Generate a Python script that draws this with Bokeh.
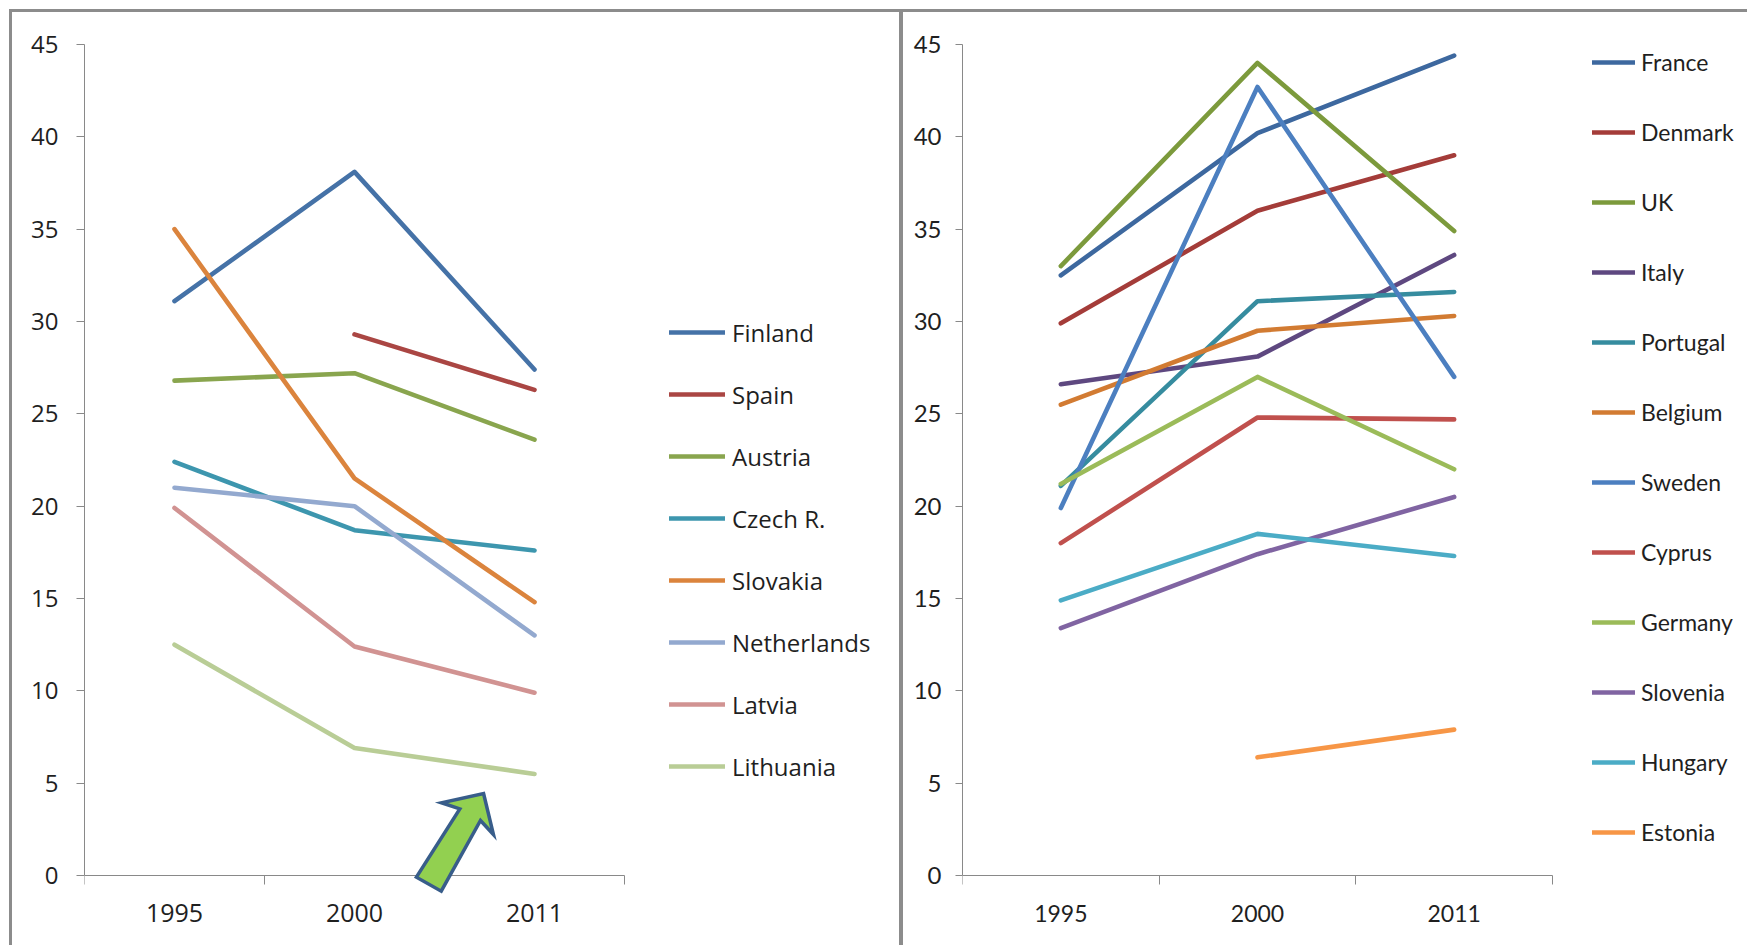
from bokeh.plotting import figure
from bokeh.models import (Range1d, LinearAxis, FixedTicker, BoxAnnotation,
                          Legend, LegendItem, PolyAnnotation, Div)
from bokeh.layouts import row, column
from bokeh.embed import file_html
from bokeh.resources import INLINE

# ---------------- data ----------------
years = ["1995", "2000", "2011"]

left_names = ["Finland", "Spain", "Austria", "Czech R.", "Slovakia", "Netherlands", "Latvia", "Lithuania"]
finland = [31.1, 38.1, 27.4]
spain = [None, 29.3, 26.3]
austria = [26.8, 27.2, 23.6]
czech = [22.4, 18.7, 17.6]
slovakia = [35.0, 21.5, 14.8]
netherlands = [21.0, 20.0, 13.0]
latvia = [19.9, 12.4, 9.9]
lithuania = [12.5, 6.9, 5.5]
left_values = [finland, spain, austria, czech, slovakia, netherlands, latvia, lithuania]
left_colors = ["#4572A7", "#AA4643", "#89A54E", "#3D96AE", "#DB843D", "#93A9CF", "#D19392", "#B9CD96"]

right_names = ["France", "Denmark", "UK", "Italy", "Portugal", "Belgium", "Sweden", "Cyprus",
               "Germany", "Slovenia", "Hungary", "Estonia"]
france = [32.5, 40.2, 44.4]
denmark = [29.9, 36.0, 39.0]
uk = [33.0, 44.0, 34.9]
italy = [26.6, 28.1, 33.6]
portugal = [21.1, 31.1, 31.6]
belgium = [25.5, 29.5, 30.3]
sweden = [19.9, 42.7, 27.0]
cyprus = [18.0, 24.8, 24.7]
germany = [21.2, 27.0, 22.0]
slovenia = [13.4, 17.4, 20.5]
hungary = [14.9, 18.5, 17.3]
estonia = [None, 6.4, 7.9]
right_values = [france, denmark, uk, italy, portugal, belgium, sweden, cyprus,
                germany, slovenia, hungary, estonia]
right_colors = ["#3D689F", "#A43C39", "#7C9A3C", "#5E4880", "#368C9F", "#D27B32",
                "#4C7FC0", "#C0504D", "#9BBB59", "#8064A2", "#4BACC6", "#F79646"]

y_ticks = [0, 5, 10, 15, 20, 25, 30, 35, 40, 45]
Y_MAX = 45

# category slots: each year occupies one unit, centred at i + 0.5
n_cat = len(years)
x_centers = [i + 0.5 for i in range(n_cat)]
x_bounds = [float(i) for i in range(n_cat + 1)]

# decorative arrow (left panel), in the panel's data space
arrow_xs = [2.217, 2.272, 2.200, 1.982, 1.844, 2.085, 1.983]
arrow_ys = [4.44, 2.22, 2.98, -0.85, -0.09, 3.61, 3.94]

GRID = "#898989"
TEXT = "#1f1f1f"
FIG_H = 933
TOP = 32          # canvas px above the 45 gridline
PLOT_H = 831      # px between 45 and 0 gridlines


def nanify(vals):
    return [float("nan") if v is None else v for v in vals]


def make_panel(names, values, colors, width, b_left, plot_w,
               tick_font, ytick_size, xtick_size, ylab_standoff, ytick_out, xlab_standoff,
               leg_font, leg_size, leg_loc, glyph_w, leg_spacing, leg_standoff):
    frame_w = width - b_left
    frame_h = FIG_H - TOP
    x_max = n_cat * frame_w / plot_w
    y_min = -Y_MAX * (frame_h - PLOT_H) / PLOT_H
    p = figure(x_range=Range1d(0, x_max), y_range=Range1d(y_min, Y_MAX),
               width=width, height=FIG_H, output_backend="svg", toolbar_location=None,
               x_axis_type=None, y_axis_type=None,
               min_border_left=b_left, min_border_right=0,
               min_border_top=TOP, min_border_bottom=0)
    p.outline_line_color = None
    p.background_fill_color = "white"
    p.border_fill_color = "white"

    yax = LinearAxis(ticker=FixedTicker(ticks=y_ticks, minor_ticks=[]), bounds=(0, Y_MAX))
    yax.axis_line_color = GRID
    yax.major_tick_line_color = GRID
    yax.major_tick_out = ytick_out
    yax.major_tick_in = 0
    yax.minor_tick_line_color = None
    yax.major_label_text_font = tick_font
    yax.major_label_text_font_size = ytick_size
    yax.major_label_text_color = TEXT
    yax.major_label_standoff = ylab_standoff
    p.add_layout(yax, "left")

    p.ygrid.grid_line_color = GRID
    p.ygrid.ticker = FixedTicker(ticks=y_ticks, minor_ticks=[])
    p.xgrid.visible = False

    # hide the grid to the right of the category area (legend zone)
    p.add_layout(BoxAnnotation(left=n_cat, fill_color="white", fill_alpha=1,
                               line_alpha=0, level="underlay"))

    tax = LinearAxis(ticker=FixedTicker(ticks=x_bounds, minor_ticks=[]),
                     fixed_location=0, bounds=(0, n_cat))
    tax.axis_line_color = GRID
    tax.major_tick_line_color = GRID
    tax.major_tick_out = 9
    tax.major_tick_in = 0
    tax.minor_tick_line_color = None
    tax.major_label_text_font_size = "1px"
    tax.major_label_text_alpha = 0
    tax.major_label_standoff = 0
    p.add_layout(tax, "below")

    cax = LinearAxis(ticker=FixedTicker(ticks=x_centers, minor_ticks=[]),
                     major_label_overrides={c: y for c, y in zip(x_centers, years)},
                     fixed_location=0)
    cax.axis_line_color = None
    cax.major_tick_line_color = None
    cax.major_tick_out = 0
    cax.major_tick_in = 0
    cax.minor_tick_line_color = None
    cax.major_label_text_font = tick_font
    cax.major_label_text_font_size = xtick_size
    cax.major_label_text_color = TEXT
    cax.major_label_standoff = xlab_standoff
    p.add_layout(cax, "below")

    items = []
    for name, vals, col in zip(names, values, colors):
        r = p.line(x=x_centers, y=nanify(vals), line_color=col, line_width=4.6,
                   line_cap="round", line_join="round")
        items.append(LegendItem(label=name, renderers=[r]))

    leg = Legend(items=items, location=leg_loc)
    leg.label_text_font = leg_font
    leg.label_text_font_size = leg_size
    leg.label_text_color = TEXT
    leg.glyph_width = glyph_w
    leg.glyph_height = 34
    leg.label_height = 34
    leg.spacing = leg_spacing
    leg.padding = 0
    leg.margin = 0
    leg.label_standoff = leg_standoff
    leg.border_line_color = None
    leg.background_fill_alpha = 0
    p.add_layout(leg)
    return p


left = make_panel(left_names, left_values, left_colors, 887, 72, 540,
                  "Open Sans", "24px", "25px", 18, 8, 28,
                  "Open Sans", "24px", (585, 162), 56, 28, 7)
left.add_layout(PolyAnnotation(xs=arrow_xs, ys=arrow_ys, fill_color="#92D050", fill_alpha=1,
                               line_color="#385D8A", line_alpha=1, line_width=3.5,
                               line_join="miter"))

right = make_panel(right_names, right_values, right_colors, 844, 59, 590,
                   "Lato", "24px", "23px", 14, 7, 29,
                   "Lato", "23px", (630, 96), 43, 36, 6)


def bar(w, h):
    return Div(text="", width=w, height=h, margin=0,
               styles={"background-color": "#8c8c8c"})


layout = column(
    bar(1738, 3),
    row(bar(3, FIG_H), left, bar(4, FIG_H), right, spacing=0),
    spacing=0,
    margin=(9, 0, 0, 9),
)

open("out.html", "w").write(file_html(layout, INLINE))
